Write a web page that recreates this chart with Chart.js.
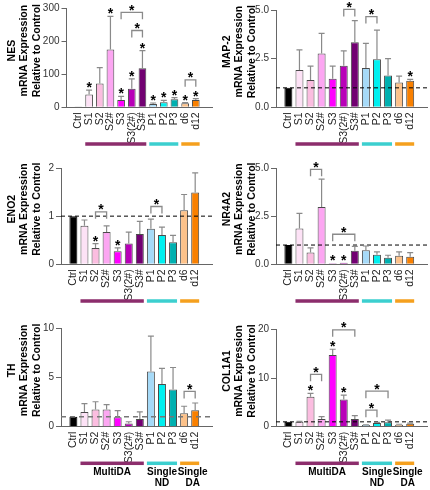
<!DOCTYPE html>
<html>
<head>
<meta charset="utf-8">
<script src="https://cdn.jsdelivr.net/npm/chart.js@4.4.1/dist/chart.umd.min.js"></script>
<style>
  body { margin: 0; background: #fff; width: 430px; height: 490px; position: relative; overflow: hidden; }
  canvas { position: absolute; }
</style>
</head>
<body>
<canvas id="nes" width="215" height="160" style="left:0;top:0"></canvas>
<canvas id="map2" width="215" height="160" style="left:215px;top:0"></canvas>
<canvas id="eno2" width="215" height="160" style="left:0;top:160px"></canvas>
<canvas id="nr4a2" width="215" height="160" style="left:215px;top:160px"></canvas>
<canvas id="th" width="215" height="170" style="left:0;top:320px"></canvas>
<canvas id="col1a1" width="215" height="170" style="left:215px;top:320px"></canvas>
<script>
var cats = ['Ctrl', 'S1', 'S2', 'S2#', 'S3', 'S3(2#)', 'S3#', 'P1', 'P2', 'P3', 'd6', 'd12'];
var barColors = ['#000000', '#fde2f6', '#fbbde0', '#fca6f2', '#ff00ff', '#b800b8', '#720072',
                 '#a6daf8', '#00f0f0', '#00b0b0', '#fdc28a', '#f98000'];
var groupColors = ['#8c2d6c', '#3ccfcf', '#f5a01e'];
var groups = [[1, 6], [7, 9], [10, 11]];

// NES
var nesVals = [1, 39, 72, 175, 22, 56, 118, 10, 15, 24, 12, 22];
var nesErr = [null, 52, 120, 275, 33, 86, 171, 13, 21, 29, 14, 26];
var nesStars = [1, 3, 4, 5, 6, 7, 8, 9, 10, 11];
var nesBrackets = [[4, 6, 287], [5, 6, 232], [10, 11, 83]];
var nesTicks = [0, 100, 200, 300];

// MAP-2
var mapVals = [1, 1.92, 1.4, 2.77, 1.47, 2.14, 3.34, 2.02, 2.47, 1.64, 1.28, 1.37];
var mapErr = [null, 2.95, 2.12, 3.8, 2.12, 2.9, 4.45, 3.29, 3.97, 2.5, 1.6, 1.44];
var mapStars = [11];
var mapBrackets = [[5, 6, 5.03], [7, 8, 4.66]];
var mapTicks = [0, 2.5, 5];

// ENO2
var enoVals = [1, 0.8, 0.34, 0.67, 0.27, 0.43, 0.63, 0.74, 0.61, 0.46, 1.12, 1.49];
var enoErr = [null, 0.92, 0.43, 0.8, 0.34, 0.67, 0.89, 0.94, 0.77, 0.6, 1.45, 1.9];
var enoStars = [2, 4];
var enoBrackets = [[2, 3, 1.09], [7, 8, 1.2]];
var enoTicks = [0, 1, 2];

// NR4A2
var nrVals = [1, 1.86, 0.61, 2.97, 0.05, 0.08, 0.71, 0.73, 0.49, 0.34, 0.44, 0.39];
var nrErr = [null, 2.64, 0.85, 4.42, null, null, 0.93, 0.95, 0.64, 0.47, 0.64, 0.61];
var nrStars = [4, 5];
var nrBrackets = [[2, 3, 4.93], [4, 6, 1.56]];
var nrTicks = [0, 2.5, 5];

// TH
var thVals = [1, 1.5, 1.73, 1.73, 0.97, 0.33, 0.77, 5.6, 4.33, 3.77, 1.37, 1.67];
var thErr = [null, 2.33, 2.53, 2.23, 1.63, 0.5, 1.5, 9.17, 5.9, 6.0, 2.07, 2.4];
var thStars = [];
var thBrackets = [[10, 11, 3.57]];
var thTicks = [0, 5, 10];

// COL1A1
var colVals = [1, 1.03, 6.16, 1.58, 14.7, 5.6, 1.58, 0.35, 0.75, 0.9, 0.4, 0.6];
var colErr = [null, 1.1, 6.85, 2.05, 15.9, 6.5, 2.26, 0.4, 0.9, 1.35, 0.5, 0.75];
var colStars = [2, 4, 5];
var colBrackets = [[2, 3, 10.75], [4, 6, 19.9], [7, 8, 3.4], [7, 9, 7.3]];
var colTicks = [0, 10, 20];

Chart.defaults.font.family = '"Liberation Sans", Arial, sans-serif';

function drawStar(c, x, cy) {
  c.fillStyle = '#000';
  c.font = 'bold 14px "Liberation Sans", Arial, sans-serif';
  c.textAlign = 'center';
  c.textBaseline = 'alphabetic';
  c.fillText('*', x, cy + 8);
}

function makePanel(p) {
  var marks = {
    id: 'marks',
    afterDatasetsDraw: function (chart) {
      var c = chart.ctx;
      var xs = chart.scales.x, ys = chart.scales.y, a = chart.chartArea;
      var bw = chart.getDatasetMeta(0).data[0].width;
      c.save();

      // reference line at 1
      if (p.dashed) {
        var yd = ys.getPixelForValue(1);
        c.strokeStyle = p.dashColor;
        c.lineWidth = p.dashWidth;
        c.setLineDash(p.dash);
        c.beginPath();
        c.moveTo(a.left, yd);
        c.lineTo(a.right, yd);
        c.stroke();
        c.setLineDash([]);
      }

      // error bars (upper only)
      c.strokeStyle = '#8a8a8a';
      c.lineWidth = 1.2;
      for (var i = 0; i < p.vals.length; i++) {
        if (p.err[i] == null) continue;
        var x = xs.getPixelForValue(i);
        var y0 = ys.getPixelForValue(p.vals[i]);
        var y1 = ys.getPixelForValue(p.err[i]);
        c.beginPath();
        c.moveTo(x, y0);
        c.lineTo(x, y1);
        c.moveTo(x - 3, y1);
        c.lineTo(x + 3, y1);
        c.stroke();
      }

      // stars above bars
      p.stars.forEach(function (k) {
        var top = p.err[k] != null ? p.err[k] : p.vals[k];
        drawStar(c, xs.getPixelForValue(k), ys.getPixelForValue(top) - 6);
      });

      // comparison brackets
      p.brackets.forEach(function (b) {
        var xa = xs.getPixelForValue(b[0]), xb = xs.getPixelForValue(b[1]);
        var yb = ys.getPixelForValue(b[2]);
        c.strokeStyle = '#8a8a8a';
        c.lineWidth = 1.3;
        c.beginPath();
        c.moveTo(xa, yb + 7);
        c.lineTo(xa, yb);
        c.lineTo(xb, yb);
        c.lineTo(xb, yb + 7);
        c.stroke();
        drawStar(c, (xa + xb) / 2, yb - 5.5);
      });

      // group bars under labels
      groups.forEach(function (g, k) {
        var gx0 = xs.getPixelForValue(g[0]) - bw / 2;
        var gx1 = xs.getPixelForValue(g[1]) + bw / 2;
        c.fillStyle = groupColors[k];
        c.fillRect(gx0, p.groupY - 1.75, gx1 - gx0, 3.5);
      });

      if (p.groupText) {
        c.fillStyle = '#000';
        c.font = 'bold 10px "Liberation Sans", Arial, sans-serif';
        c.textAlign = 'center';
        c.textBaseline = 'middle';
        var m = function (g) { return (xs.getPixelForValue(g[0]) + xs.getPixelForValue(g[1])) / 2; };
        c.fillText('MultiDA', m(groups[0]), 152);
        c.fillText('Single', m(groups[1]), 152);
        c.fillText('ND', m(groups[1]), 163.5);
        c.fillText('Single', m(groups[2]) + 3, 152);
        c.fillText('DA', m(groups[2]) + 3, 163.5);
      }

      // y axis title, three lines
      var cy = (a.top + a.bottom) / 2 - 7;
      c.fillStyle = '#000';
      c.font = 'bold 10.5px "Liberation Sans", Arial, sans-serif';
      c.textAlign = 'center';
      c.textBaseline = 'middle';
      [p.title, 'mRNA Expression', 'Relative to Control'].forEach(function (t, k) {
        c.save();
        c.translate(12 + k * 12.5, cy);
        c.rotate(-Math.PI / 2);
        c.fillText(t, 0, 0);
        c.restore();
      });
      c.restore();
    }
  };

  return new Chart(document.getElementById(p.id), {
    type: 'bar',
    data: {
      datasets: [{
        data: p.vals.map(function (v, i) { return { x: i, y: v }; }),
        backgroundColor: barColors,
        borderColor: barColors.map(function (col, i) { return i === 0 ? '#000' : '#4a4a4a'; }),
        borderWidth: 1,
        barPercentage: 0.72,
        categoryPercentage: 1
      }]
    },
    options: {
      responsive: false,
      animation: false,
      events: [],
      layout: { padding: { top: p.top, right: 3, left: 0, bottom: 0 } },
      plugins: { legend: { display: false }, tooltip: { enabled: false } },
      scales: {
        x: {
          type: 'linear',
          min: -0.55,
          max: 11.95,
          afterBuildTicks: function (s) {
            s.ticks = cats.map(function (n, i) { return { value: i }; });
          },
          afterFit: function (s) { s.height = p.height - p.bottom; },
          grid: { display: false, drawTicks: false },
          border: { color: '#666', width: 1 },
          ticks: {
            autoSkip: false,
            minRotation: 90,
            maxRotation: 90,
            padding: 5,
            color: '#222',
            font: { size: 10.5 },
            callback: function (v) { return cats[v]; }
          }
        },
        y: {
          min: 0,
          max: p.ticks[p.ticks.length - 1],
          afterBuildTicks: function (s) {
            s.ticks = p.ticks.map(function (v) { return { value: v }; });
          },
          afterFit: function (s) { s.width = p.left; },
          grid: { display: true, drawOnChartArea: false, drawTicks: true, tickLength: 5, color: '#666' },
          border: { color: '#666', width: 1 },
          ticks: {
            padding: 2,
            color: '#333',
            font: { size: 10 },
            callback: function (v) { return p.dec ? v.toFixed(1) : String(v); }
          }
        }
      }
    },
    plugins: [marks]
  });
}

var blackDash = { dashed: true, dashColor: '#000', dashWidth: 1, dash: [4, 3] };

function withDash(p, d) {
  for (var k in d) p[k] = d[k];
  return p;
}

makePanel({ id: 'nes', title: 'NES', vals: nesVals, err: nesErr, stars: nesStars, brackets: nesBrackets,
  ticks: nesTicks, dec: false, dashed: false, top: 8, bottom: 107.3, left: 66.5, height: 160, groupY: 144, groupText: false });
makePanel(withDash({ id: 'map2', title: 'MAP-2', vals: mapVals, err: mapErr, stars: mapStars, brackets: mapBrackets,
  ticks: mapTicks, dec: true, top: 10, bottom: 107.3, left: 61, height: 160, groupY: 144, groupText: false }, blackDash));
makePanel(withDash({ id: 'eno2', title: 'ENO2', vals: enoVals, err: enoErr, stars: enoStars, brackets: enoBrackets,
  ticks: enoTicks, dec: false, top: 4.3, bottom: 104.3, left: 61, height: 160, groupY: 141, groupText: false }, blackDash));
makePanel(withDash({ id: 'nr4a2', title: 'NR4A2', vals: nrVals, err: nrErr, stars: nrStars, brackets: nrBrackets,
  ticks: nrTicks, dec: true, top: 6, bottom: 104.3, left: 61, height: 160, groupY: 141, groupText: false }, blackDash));
makePanel({ id: 'th', title: 'TH', vals: thVals, err: thErr, stars: thStars, brackets: thBrackets,
  ticks: thTicks, dec: false, dashed: true, dashColor: '#777', dashWidth: 1.5, dash: [5, 4],
  top: 6.7, bottom: 106.7, left: 61, height: 170, groupY: 143.3, groupText: true });
makePanel(withDash({ id: 'col1a1', title: 'COL1A1', vals: colVals, err: colErr, stars: colStars, brackets: colBrackets,
  ticks: colTicks, dec: false, top: 9.3, bottom: 106.7, left: 61, height: 170, groupY: 143.3, groupText: true }, blackDash));
</script>
</body>
</html>
